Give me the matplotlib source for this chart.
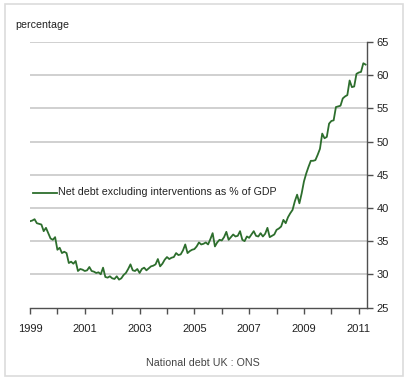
import matplotlib
matplotlib.use("Agg")
import matplotlib.pyplot as plt
from matplotlib.patches import Rectangle
from matplotlib.lines import Line2D

# Monthly net debt excluding interventions, % of GDP, Jan 1999 onwards
start_year = 1999
net_debt = [
    # 1999
    38.0, 38.1, 38.3, 37.7, 37.6, 37.5, 36.5, 37.0, 36.2, 35.4, 35.2, 35.6,
    # 2000
    33.7, 34.0, 33.2, 33.4, 33.2, 31.7, 31.9, 31.6, 32.0, 30.5, 30.8, 30.7,
    # 2001
    30.5, 30.6, 31.1, 30.5, 30.4, 30.2, 30.3, 30.0, 31.0, 29.6, 29.5, 29.7,
    # 2002
    29.4, 29.3, 29.7, 29.2, 29.4, 29.9, 30.2, 30.8, 31.5, 30.6, 30.5, 30.8,
    # 2003
    30.2, 30.8, 31.0, 30.6, 30.9, 31.2, 31.3, 31.5, 32.3, 31.2, 31.6, 32.2,
    # 2004
    32.6, 32.3, 32.5, 32.6, 33.2, 32.9, 33.0, 33.6, 34.5, 33.2, 33.5, 33.7,
    # 2005
    33.8, 34.2, 34.8, 34.5, 34.6, 34.8, 34.5, 35.3, 36.2, 34.2, 34.8, 35.2,
    # 2006
    35.1, 35.6, 36.4, 35.2, 35.6, 36.0, 35.7, 35.8, 36.5, 35.2, 35.0, 35.7,
    # 2007
    35.5, 36.0, 36.5, 35.8, 35.7, 36.2, 35.7, 36.1, 37.0, 35.6, 35.8, 36.0,
    # 2008
    36.7, 36.9, 37.2, 38.2, 37.7, 38.6, 39.2, 39.7, 41.0, 42.0, 40.7, 42.2,
    # 2009
    44.0, 45.2, 46.2, 47.1, 47.1, 47.2, 48.0, 48.9, 51.2, 50.5, 50.7, 52.7,
    # 2010
    53.1, 53.2, 55.2, 55.3, 55.4, 56.5, 56.8, 57.0, 59.2, 58.2, 58.3, 60.2,
    # 2011
    60.4, 60.5, 61.8, 61.6,
]
series_label = "Net debt excluding interventions as % of GDP"
x_ticks = list(range(1999, 2012))
x_labels = [str(y) if (y - 1999) % 2 == 0 else "" for y in x_ticks]
y_ticks = [25, 30, 35, 40, 45, 50, 55, 60, 65]
y_label = "percentage"
source = "National debt UK : ONS"

plt.rcParams['font.family'] = ['Liberation Sans', 'DejaVu Sans']

W, H = 408, 380
fig = plt.figure(figsize=(W / 100, H / 100), dpi=100)
fig.patch.set_facecolor("white")

# outer frame
fig.patches.append(Rectangle((5 / W, 4 / H), 398 / W, 372 / H, transform=fig.transFigure,
                             fill=False, edgecolor="#dcdcdc", linewidth=1.2))

ax = fig.add_axes([30 / W, 1 - 307.5 / H, 336.7 / W, 265.5 / H])
dates = [start_year + i / 12 for i in range(len(net_debt))]
ax.plot(dates, net_debt, color="#2d6e2d", linewidth=1.3, zorder=3)

ax.set_xlim(1999, 2011.29)
ax.set_ylim(25, 65)
ax.set_yticks(y_ticks)
ax.set_xticks(x_ticks)
ax.set_xticklabels(x_labels)
ax.yaxis.tick_right()
for v in y_ticks[1:]:
    ax.axhline(v, color="#c8c8c8", linewidth=1.2, zorder=1)

for s in ["left", "top"]:
    ax.spines[s].set_visible(False)
for s in ["right", "bottom"]:
    ax.spines[s].set_color("#505050")
    ax.spines[s].set_linewidth(1.0)
ax.tick_params(axis="both", direction="out", length=4, width=1.0, color="#505050",
               labelsize=8, labelcolor="#222222")
ax.tick_params(axis="x", pad=8)
ax.tick_params(axis="y", pad=3)

fig.text(15 / W, 1 - 25 / H, y_label, fontsize=7.7, color="#222222", va="center", ha="left")

# legend
fig.lines.append(Line2D([33 / W, 57 / W], [1 - 193 / H, 1 - 193 / H], transform=fig.transFigure,
                        color="#2d6e2d", linewidth=1.3))
fig.text(58 / W, 1 - 192 / H, series_label, fontsize=7.7, color="#222222", va="center", ha="left")

fig.text(203 / W, 1 - 363 / H, source, fontsize=7.7, color="#444444", va="center", ha="center")

fig.savefig("out.png", dpi=100, facecolor="white")
